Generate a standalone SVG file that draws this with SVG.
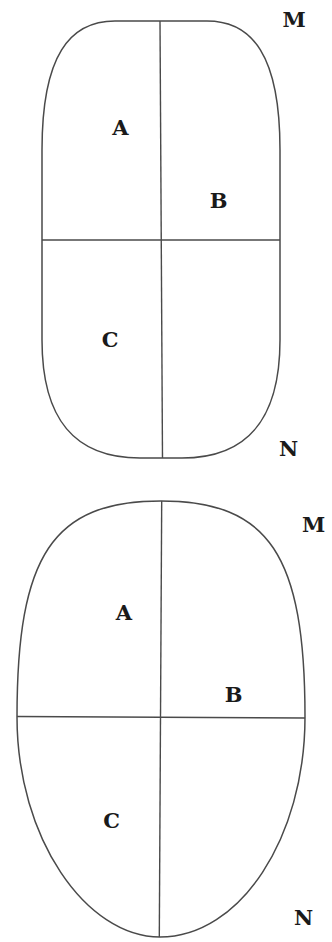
<svg xmlns="http://www.w3.org/2000/svg" width="332" height="942" viewBox="0 0 332 942">
  <style>
    .outline { fill: none; stroke: #4a4a4a; stroke-width: 1.5; }
    .div { fill: none; stroke: #4a4a4a; stroke-width: 1.4; }
    .lbl { font-family: "DejaVu Serif", "Liberation Serif", serif; font-weight: bold; font-size: 21px; fill: #1a1a1a; text-anchor: middle; }
  </style>
  <rect width="332" height="942" fill="#ffffff"/>
  <g id="top-figure">
    <path class="outline" d="M 42,150 C 42,55 70,21 115,21 L 207,21 C 252,21 280,55 280,150 L 280,340 C 280,420 247,458 182,458 L 140,458 C 75,458 42,420 42,340 Z"/>
    <line class="div" x1="160" y1="21" x2="162.5" y2="458"/>
    <line class="div" x1="42" y1="240" x2="280" y2="240"/>
    <text class="lbl" x="120.5" y="135">A</text>
    <text class="lbl" x="218.5" y="208">B</text>
    <text class="lbl" x="110" y="347">C</text>
    <text class="lbl" x="294" y="27">M</text>
    <text class="lbl" x="288.5" y="456">N</text>
  </g>
  <g id="bottom-figure">
    <path class="outline" d="M 17,717 C 17,555 53,501 161,501 C 269,501 305,555 305,717 C 305,838 240,937 160,937 C 86,937 17,838 17,717 Z"/>
    <line class="div" x1="161.7" y1="501" x2="159.3" y2="937"/>
    <line class="div" x1="17" y1="716.5" x2="305" y2="718"/>
    <text class="lbl" x="124" y="620">A</text>
    <text class="lbl" x="233.5" y="702">B</text>
    <text class="lbl" x="111.5" y="828">C</text>
    <text class="lbl" x="313.5" y="532">M</text>
    <text class="lbl" x="303.5" y="925">N</text>
  </g>
</svg>
